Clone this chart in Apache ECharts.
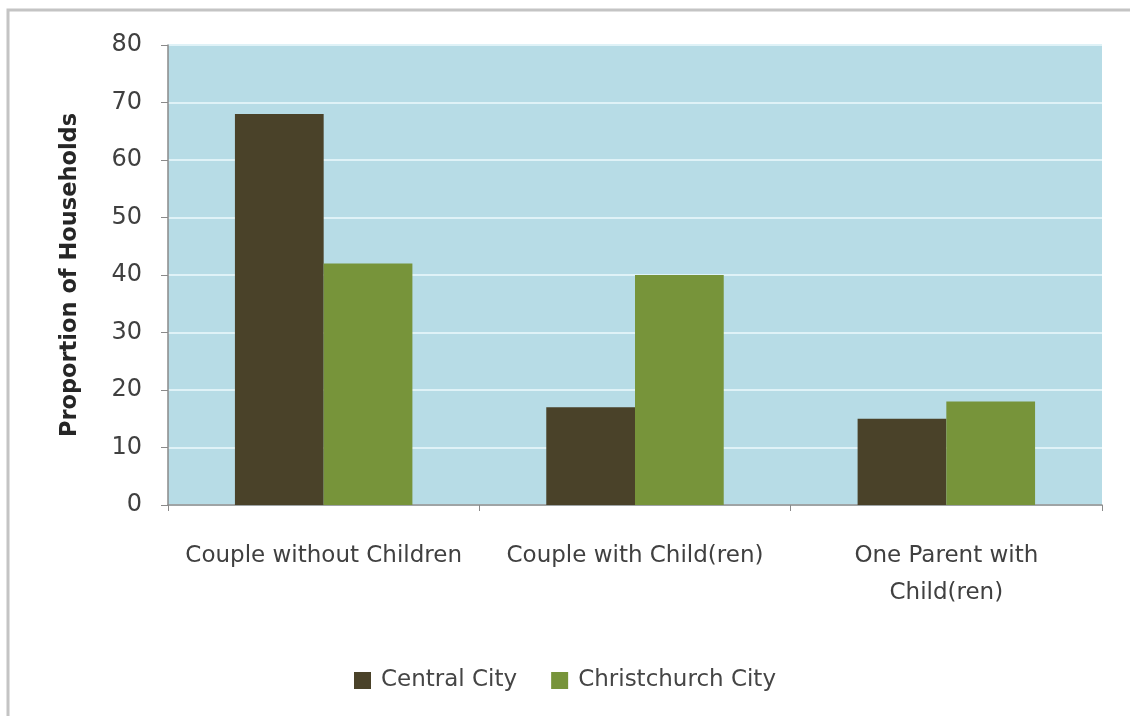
<!DOCTYPE html>
<html>
<head>
<meta charset="utf-8">
<script src="https://cdn.jsdelivr.net/npm/echarts@6/dist/echarts.min.js"></script>
<style>
  html, body { margin: 0; padding: 0; background: #ffffff; }
  #chart { width: 1130px; height: 716px; }
</style>
</head>
<body>
<div id="chart"></div>
<script>
// Household composition: Central City vs Christchurch City
const categories = ['Couple without Children', 'Couple with Child(ren)', 'One Parent with\nChild(ren)'];
const centralCity = [68, 17, 15];
const christchurchCity = [42, 40, 18];
const yTicks = { min: 0, max: 80, interval: 10 };

const FONT = 'DejaVu Sans';
const chart = echarts.init(document.getElementById('chart'), null, { renderer: 'canvas' });

chart.setOption({
  backgroundColor: '#ffffff',
  animation: false,
  graphic: [{
    type: 'rect',
    shape: { x: 8, y: 10, width: 1140, height: 720 },
    style: { fill: 'none', stroke: '#c4c4c4', lineWidth: 3 },
    silent: true
  }],
  grid: {
    left: 168, top: 45, width: 934, height: 460,
    show: true, backgroundColor: '#b7dce6', borderWidth: 0
  },
  legend: {
    top: 664, left: 'center',
    itemWidth: 17, itemHeight: 17, itemGap: 34,
    icon: 'rect',
    textStyle: { fontFamily: FONT, fontSize: 23, color: '#454545', padding: [0, 0, 0, 5] },
    data: ['Central City', 'Christchurch City']
  },
  xAxis: {
    type: 'category',
    data: categories,
    axisLine: { show: true, lineStyle: { color: '#8a8a8a', width: 1.5 } },
    axisTick: { show: true, alignWithLabel: false, length: 6, lineStyle: { color: '#8a8a8a' } },
    axisLabel: {
      interval: 0, margin: 33, lineHeight: 37,
      fontFamily: FONT, fontSize: 23, color: '#404040'
    }
  },
  yAxis: {
    type: 'value',
    min: yTicks.min, max: yTicks.max, interval: yTicks.interval,
    name: 'Proportion of Households',
    nameLocation: 'middle',
    nameGap: 86,
    nameRotate: 90,
    nameTextStyle: { fontFamily: FONT, fontSize: 22.5, fontWeight: 'bold', color: '#262626' },
    axisLine: { show: true, lineStyle: { color: '#8a8a8a', width: 1.5 } },
    axisTick: { show: true, length: 7, lineStyle: { color: '#8a8a8a' } },
    axisLabel: { margin: 26, fontFamily: FONT, fontSize: 24, color: '#404040' },
    splitLine: { show: true, lineStyle: { color: '#dff2f7', width: 2 } }
  },
  series: [
    {
      name: 'Central City', type: 'bar', data: centralCity,
      barGap: '0%', barCategoryGap: '43%',
      itemStyle: { color: '#4a4229' }
    },
    {
      name: 'Christchurch City', type: 'bar', data: christchurchCity,
      barGap: '0%', barCategoryGap: '43%',
      itemStyle: { color: '#77943a' }
    }
  ]
});
</script>
</body>
</html>
